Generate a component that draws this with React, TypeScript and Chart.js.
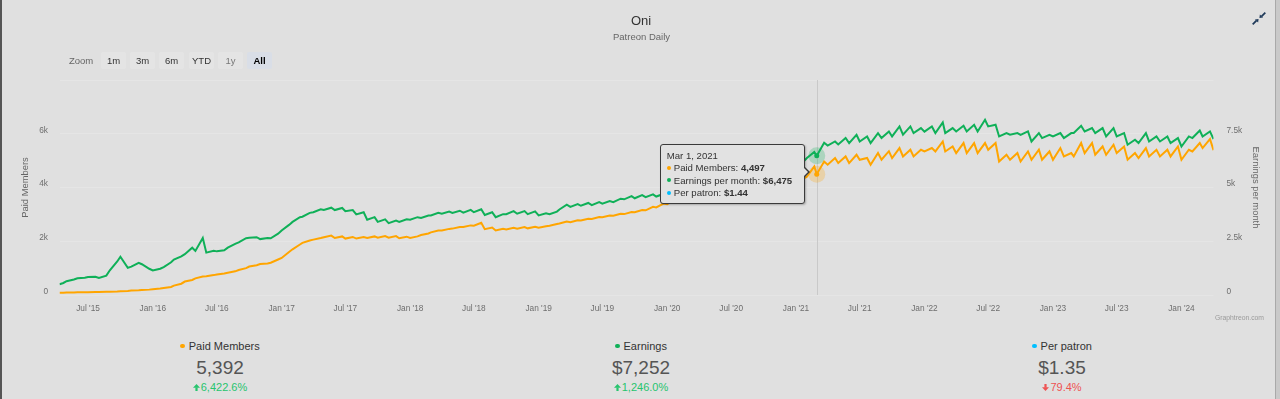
import React, { useEffect, useRef, useState } from "react";
import { Chart, registerables } from "chart.js";

Chart.register(...registerables);

const FONT = '"Liberation Sans", Arial, Helvetica, sans-serif';
const ORANGE = "#ffa500";
const GREEN = "#0fb058";
const BLUE = "#00bfff";
const BG = "#e0e0e0";

// Monthly series, first month = April 2015. "Low" = value at start of month, "High" = value late in month.
const START_YEAR = 2015;
const START_MONTH = 4;

const membersLow = [
  83, 92, 98, 104, 112, 122, 140, 165, 185,
  215, 260, 350, 500, 620, 700, 760, 830, 930, 1060, 1150, 1200,
  1380, 1700, 1940, 2060, 2150, 2120, 2100, 2100, 2120, 2130, 2130, 2110,
  2120, 2230, 2330, 2400, 2470, 2530, 2580, 2450, 2400, 2440, 2470, 2480,
  2500, 2580, 2660, 2710, 2770, 2830, 2890, 2950, 3010, 3080, 3150, 3260,
  3380, 3500, 3600, 3720, 3800, 3870, 3920, 3960, 4000, 4050, 4080, 4120,
  4150, 4400, 4497, 4850, 4909, 4909, 5032, 4845, 5032, 5095, 5155, 5155,
  5341, 5341, 5341, 5281, 5281, 5281, 5404, 4968, 5032, 4968, 5032, 5032,
  5032, 5155, 5155, 5281, 5218, 5218, 5281, 5032, 5095, 5155, 5155, 5155,
  5032, 5341, 5468,
];

const membersHigh = [
  88, 96, 102, 108, 118, 130, 150, 175, 200,
  240, 300, 420, 560, 690, 740, 800, 880, 1000, 1110, 1170, 1320,
  1600, 1880, 2030, 2120, 2210, 2180, 2160, 2160, 2180, 2190, 2190, 2170,
  2180, 2290, 2400, 2460, 2530, 2590, 2690, 2510, 2460, 2500, 2530, 2540,
  2560, 2640, 2730, 2780, 2840, 2900, 2960, 3020, 3090, 3160, 3280, 3400,
  3530, 3640, 3760, 3860, 3940, 3990, 4040, 4080, 4130, 4170, 4210, 4250,
  4330, 4780, 4968, 5095, 5155, 5218, 5100, 5281, 5350, 5468, 5404, 5404,
  5468, 5714, 5527, 5654, 5654, 5654, 5654, 5218, 5281, 5341, 5404, 5341,
  5468, 5281, 5654, 5654, 5527, 5591, 5527, 5281, 5468, 5404, 5404, 5527,
  5404, 5654, 5803,
];

const earningsLow = [
  500, 640, 780, 840, 790, 1150, 1780, 1320, 1430,
  1140, 1300, 1650, 1900, 2050, 1970, 2030, 2200, 2450, 2660, 2600, 2640,
  3000, 3400, 3640, 3850, 3950, 3950, 3900, 3750, 3500, 3400, 3340, 3400,
  3500, 3580, 3700, 3780, 3820, 3830, 3850, 3720, 3620, 3760, 3780, 3760,
  3700, 3760, 3980, 4100, 4150, 4180, 4250, 4320, 4450, 4500, 4550, 4580,
  4620, 4700, 4820, 5000, 5150, 5250, 5350, 5450, 5550, 5650, 5750, 5850,
  5950, 6370, 6475, 6950, 7000, 7066, 7141, 7066, 7299, 7374, 7453, 7532,
  7600, 7532, 7532, 7607, 7607, 7607, 7840, 7374, 7453, 7450, 7141, 7299,
  7374, 7299, 7532, 7607, 7532, 7374, 7374, 6987, 7066, 7141, 7141, 7066,
  6908, 7299, 7374,
];

const earningsHigh = [
  560, 720, 800, 850, 900, 1560, 1260, 1500, 1220,
  1220, 1520, 1800, 2200, 2650, 2060, 2080, 2380, 2640, 2690, 2650, 2850,
  3260, 3620, 3820, 3990, 4060, 4050, 3950, 3850, 3620, 3520, 3460, 3520,
  3620, 3700, 3820, 3880, 3920, 3960, 3990, 3850, 3760, 3900, 3900, 3890,
  3800, 3880, 4200, 4230, 4280, 4320, 4370, 4480, 4600, 4650, 4680, 4700,
  4800, 4880, 5050, 5250, 5350, 5450, 5550, 5650, 5750, 5850, 5950, 6100,
  6200, 6650, 7080, 7140, 7300, 7450, 7374, 7530, 7607, 7840, 7840, 7765,
  7840, 8026, 7765, 7872, 7919, 8151, 7919, 7532, 7532, 7607, 7532, 7453,
  7532, 7532, 7872, 7765, 7765, 7765, 7532, 7220, 7532, 7374, 7374, 7299,
  7374, 7653, 7607,
];

const lastDate = "2024-04-01";
const lastMembers = 5392;
const lastEarnings = 7252;

const xTickDates = [
  "2015-07-01", "2016-01-01", "2016-07-01", "2017-01-01", "2017-07-01", "2018-01-01",
  "2018-07-01", "2019-01-01", "2019-07-01", "2020-01-01", "2020-07-01", "2021-01-01",
  "2021-07-01", "2022-01-01", "2022-07-01", "2023-01-01", "2023-07-01", "2024-01-01",
];
const xTickLabels = [
  "Jul '15", "Jan '16", "Jul '16", "Jan '17", "Jul '17", "Jan '18",
  "Jul '18", "Jan '19", "Jul '19", "Jan '20", "Jul '20", "Jan '21",
  "Jul '21", "Jan '22", "Jul '22", "Jan '23", "Jul '23", "Jan '24",
];

const leftTicks = [0, 2000, 4000, 6000, 8000];
const leftTickLabels = ["0", "2k", "4k", "6k", ""];
const rightTicks = [0, 2500, 5000, 7500, 10000];
const rightTickLabels = ["0", "2.5k", "5k", "7.5k", ""];

const tooltipDateLabel = "Mar 1, 2021";
const tooltipMonth = "2021-03";
const tooltipPerPatron = "$1.44";

const statLabels = ["Paid Members", "Earnings", "Per patron"];
const statValues = ["5,392", "$7,252", "$1.35"];
const statChanges = ["6,422.6%", "1,246.0%", "79.4%"];
const statUp = [true, true, false];
const statColors = [ORANGE, GREEN, BLUE];

const zoomButtons = ["1m", "3m", "6m", "YTD", "1y", "All"];

const iso = (s: string) => {
  const [y, m, d] = s.split("-").map(Number);
  return Date.UTC(y, m - 1, d);
};

function buildSeries() {
  const mem: { x: number; y: number }[] = [];
  const earn: { x: number; y: number }[] = [];
  for (let i = 0; i < membersLow.length; i++) {
    const total = START_MONTH - 1 + i;
    const y = START_YEAR + Math.floor(total / 12);
    const mo = total % 12;
    const lowDay = i === 0 ? 11 : 1;
    const tLow = Date.UTC(y, mo, lowDay);
    const tHigh = Date.UTC(y, mo, 22);
    mem.push({ x: tLow, y: membersLow[i] }, { x: tHigh, y: membersHigh[i] });
    earn.push({ x: tLow, y: earningsLow[i] }, { x: tHigh, y: earningsHigh[i] });
  }
  mem.push({ x: iso(lastDate), y: lastMembers });
  earn.push({ x: iso(lastDate), y: lastEarnings });
  return { mem, earn };
}

const tipMonthIndex = (() => {
  const [y, m] = tooltipMonth.split("-").map(Number);
  return (y - START_YEAR) * 12 + (m - START_MONTH);
})();
const TIP_INDEX = tipMonthIndex * 2;

const fmt = (v: number) => v.toLocaleString("en-US");

const markerPlugin = {
  id: "hoverMarker",
  beforeDatasetsDraw(chart: any) {
    const el = chart.getDatasetMeta(0).data[TIP_INDEX];
    if (!el) return;
    const { ctx, chartArea } = chart;
    ctx.save();
    ctx.strokeStyle = "#c9c9c9";
    ctx.lineWidth = 1;
    const x = Math.round(el.x) + 0.5;
    ctx.beginPath();
    ctx.moveTo(x, chartArea.top);
    ctx.lineTo(x, chartArea.bottom);
    ctx.stroke();
    ctx.restore();
  },
  afterDatasetsDraw(chart: any) {
    const { ctx } = chart;
    const specs: [number, string, string][] = [
      [0, "rgba(255,165,0,0.25)", ORANGE],
      [1, "rgba(15,176,88,0.25)", GREEN],
    ];
    specs.forEach(([d, halo, col]) => {
      const el = chart.getDatasetMeta(d).data[TIP_INDEX];
      if (!el) return;
      ctx.save();
      ctx.fillStyle = halo;
      ctx.beginPath();
      ctx.arc(el.x, el.y, 8.5, 0, Math.PI * 2);
      ctx.fill();
      ctx.fillStyle = col;
      ctx.beginPath();
      ctx.arc(el.x, el.y, 2.5, 0, Math.PI * 2);
      ctx.fill();
      ctx.restore();
    });
  },
};

function Arrow({ up, color }: { up: boolean; color: string }) {
  return (
    <svg width="7" height="7" viewBox="0 0 7 7" style={{ verticalAlign: "middle", marginRight: 1, marginTop: -2 }}>
      <g transform={up ? "" : "rotate(180 3.5 3.5)"}>
        <polygon points="3.5,0 7,3.7 0,3.7" fill={color} />
        <rect x="2.4" y="3.4" width="2.2" height="3.6" fill={color} />
      </g>
    </svg>
  );
}

export default function App() {
  const canvasRef = useRef<HTMLCanvasElement | null>(null);
  const [tip, setTip] = useState<{ x: number; y: number } | null>(null);

  useEffect(() => {
    const { mem, earn } = buildSeries();
    const xTicks = xTickDates.map(iso);
    const canvas = canvasRef.current!;
    const chart = new Chart(canvas, {
      type: "line",
      data: {
        datasets: [
          {
            label: "Paid Members",
            data: mem,
            borderColor: ORANGE,
            backgroundColor: ORANGE,
            borderWidth: 2,
            pointRadius: 0,
            pointHoverRadius: 0,
            tension: 0,
            yAxisID: "y",
          },
          {
            label: "Earnings per month",
            data: earn,
            borderColor: GREEN,
            backgroundColor: GREEN,
            borderWidth: 2,
            pointRadius: 0,
            pointHoverRadius: 0,
            tension: 0,
            yAxisID: "y1",
          },
        ],
      },
      options: {
        responsive: false,
        animation: false,
        events: [],
        layout: { padding: { top: 80, left: 0, right: 0, bottom: 0 } },
        plugins: { legend: { display: false }, tooltip: { enabled: false } },
        scales: {
          x: {
            type: "linear",
            min: mem[0].x,
            max: mem[mem.length - 1].x,
            grid: { display: false, drawTicks: false },
            border: { display: false },
            afterBuildTicks: (s: any) => {
              s.ticks = xTicks.map((v) => ({ value: v }));
            },
            afterFit: (s: any) => {
              s.height = 35;
            },
            ticks: {
              autoSkip: false,
              maxRotation: 0,
              padding: 9,
              color: "#6e6e6e",
              font: { family: FONT, size: 8.3 },
              callback: (_v: any, i: number) => xTickLabels[i],
            },
          },
          y: {
            position: "left",
            min: 0,
            max: 8000,
            afterBuildTicks: (s: any) => {
              s.ticks = leftTicks.map((v) => ({ value: v }));
            },
            afterFit: (s: any) => {
              s.width = 59.5;
            },
            grid: { color: "#e5e5e5", drawTicks: false },
            border: { display: false },
            ticks: {
              padding: 11.5,
              labelOffset: -3.5,
              color: "#6e6e6e",
              font: { family: FONT, size: 8.3 },
              callback: (_v: any, i: number) => leftTickLabels[i],
            },
            title: {
              display: true,
              text: "Paid Members",
              color: "#666",
              font: { family: FONT, size: 9.4 },
              padding: { top: 19.5, bottom: 0 },
            },
          },
          y1: {
            position: "right",
            min: 0,
            max: 10000,
            afterBuildTicks: (s: any) => {
              s.ticks = rightTicks.map((v) => ({ value: v }));
            },
            afterFit: (s: any) => {
              s.width = 66.5;
            },
            grid: { display: false, drawTicks: false },
            border: { display: false },
            ticks: {
              padding: 13,
              labelOffset: -3.5,
              color: "#6e6e6e",
              font: { family: FONT, size: 8.3 },
              callback: (_v: any, i: number) => rightTickLabels[i],
            },
            title: {
              display: true,
              text: "Earnings per month",
              color: "#666",
              font: { family: FONT, size: 9.4 },
              padding: { top: 18.5, bottom: 0 },
            },
          },
        },
      },
      plugins: [markerPlugin],
    } as any);

    const el = chart.getDatasetMeta(0).data[TIP_INDEX] as any;
    if (el) setTip({ x: el.x, y: el.y });

    return () => {
      chart.destroy();
    };
  }, []);

  const tipRows: [string, string, string][] = [
    [ORANGE, "Paid Members: ", fmt(membersLow[tipMonthIndex])],
    [GREEN, "Earnings per month: ", "$" + fmt(earningsLow[tipMonthIndex])],
    [BLUE, "Per patron: ", tooltipPerPatron],
  ];

  const buttonX = [101, 130, 159, 189, 218, 247];

  return (
    <div
      style={{
        position: "fixed",
        left: 0,
        top: 0,
        width: 1280,
        height: 399,
        background: BG,
        overflow: "hidden",
        fontFamily: FONT,
      }}
    >
      <canvas
        ref={canvasRef}
        width={1280}
        height={330}
        style={{ position: "absolute", left: 0, top: 0, width: 1280, height: 330, display: "block" }}
      />

      {/* frame */}
      <div style={{ position: "absolute", left: 0, top: 0, width: 2, height: 399, background: "#555" }} />
      <div style={{ position: "absolute", left: 1275, top: 0, width: 1, height: 399, background: "#a9a9a9" }} />
      <div style={{ position: "absolute", left: 1276, top: 0, width: 4, height: 399, background: "#c9c9c9" }} />

      {/* title */}
      <div style={{ position: "absolute", left: 0, width: 1282, top: 12.5, textAlign: "center", fontSize: 13, lineHeight: "16px", color: "#333" }}>
        Oni
      </div>
      <div style={{ position: "absolute", left: 0, width: 1283, top: 30.7, textAlign: "center", fontSize: 9.5, lineHeight: "12px", color: "#666" }}>
        Patreon Daily
      </div>

      {/* exit fullscreen icon */}
      <svg width="14" height="13" viewBox="0 0 14 13" style={{ position: "absolute", left: 1251.5, top: 11.5 }}>
        <line x1="13.3" y1="0.7" x2="9.6" y2="4.4" stroke="#1f3a5a" strokeWidth="1.8" />
        <polygon points="7.4,6.1 7.9,2.4 11.1,5.6" fill="#1f3a5a" />
        <line x1="0.7" y1="12.3" x2="4.4" y2="8.6" stroke="#1f3a5a" strokeWidth="1.8" />
        <polygon points="6.6,6.9 6.1,10.6 2.9,7.4" fill="#1f3a5a" />
      </svg>

      {/* range selector */}
      <div style={{ position: "absolute", left: 69, top: 54, fontSize: 9.5, lineHeight: "13px", color: "#666" }}>Zoom</div>
      {zoomButtons.map((b, i) => {
        const sel = b === "All";
        return (
          <div
            key={b}
            style={{
              position: "absolute",
              left: buttonX[i],
              top: 52,
              width: 25,
              height: 17,
              background: sel ? "#d9dee7" : "#e4e4e4",
              borderRadius: 2,
              textAlign: "center",
              fontSize: 9.5,
              lineHeight: "17px",
              color: sel ? "#000" : b === "1y" ? "#777" : "#333",
              fontWeight: sel ? "bold" : "normal",
            }}
          >
            {b}
          </div>
        );
      })}

      {/* credits */}
      <div style={{ position: "absolute", right: 1280 - 1264, top: 313, fontSize: 6.8, lineHeight: "9px", color: "#9a9a9a" }}>
        Graphtreon.com
      </div>

      {/* tooltip */}
      {tip && (
        <div
          style={{
            position: "absolute",
            left: tip.x - 157,
            top: tip.y - 30,
            width: 145,
            height: 60,
            boxSizing: "border-box",
            background: "#e2e2e2",
            border: "1px solid #3a3a3a",
            borderRadius: 3,
            boxShadow: "1px 1px 2px rgba(0,0,0,0.25)",
            padding: "5px 0 0 6px",
            fontSize: 9.6,
            lineHeight: "12.3px",
            color: "#333",
            whiteSpace: "nowrap",
          }}
        >
          <div
            style={{
              position: "absolute",
              right: -6,
              top: 22,
              width: 0,
              height: 0,
              borderTop: "5px solid transparent",
              borderBottom: "5px solid transparent",
              borderLeft: "5px solid #3a3a3a",
            }}
          />
          <div
            style={{
              position: "absolute",
              right: -4.6,
              top: 23,
              width: 0,
              height: 0,
              borderTop: "4px solid transparent",
              borderBottom: "4px solid transparent",
              borderLeft: "4px solid #e2e2e2",
            }}
          />
          <div>{tooltipDateLabel}</div>
          {tipRows.map(([c, l, v]) => (
            <div key={l}>
              <span
                style={{
                  display: "inline-block",
                  width: 4,
                  height: 4,
                  borderRadius: 2,
                  background: c,
                  marginRight: 3,
                  verticalAlign: "middle",
                  marginTop: -2,
                }}
              />
              {l}
              <b>{v}</b>
            </div>
          ))}
        </div>
      )}

      {/* summary stats */}
      {statLabels.map((lab, i) => (
        <div key={lab} style={{ position: "absolute", left: 9.5 + i * 421, width: 421, top: 0, textAlign: "center" }}>
          <div style={{ position: "absolute", left: 0, width: 421, top: 338, fontSize: 11, lineHeight: "16px", color: "#333" }}>
            <span
              style={{
                display: "inline-block",
                width: 4.5,
                height: 4.5,
                borderRadius: 3,
                background: statColors[i],
                marginRight: 4,
                verticalAlign: "middle",
                marginTop: -2,
              }}
            />
            {lab}
          </div>
          <div style={{ position: "absolute", left: 0, width: 421, top: 356, fontSize: 19, lineHeight: "24px", color: "#555" }}>
            {statValues[i]}
          </div>
          <div
            style={{
              position: "absolute",
              left: 0,
              width: 421,
              top: 380,
              fontSize: 11,
              lineHeight: "15px",
              color: statUp[i] ? "#27c46e" : "#ee5252",
            }}
          >
            <Arrow up={statUp[i]} color={statUp[i] ? "#27c46e" : "#ee5252"} />
            {statChanges[i]}
          </div>
        </div>
      ))}
    </div>
  );
}
